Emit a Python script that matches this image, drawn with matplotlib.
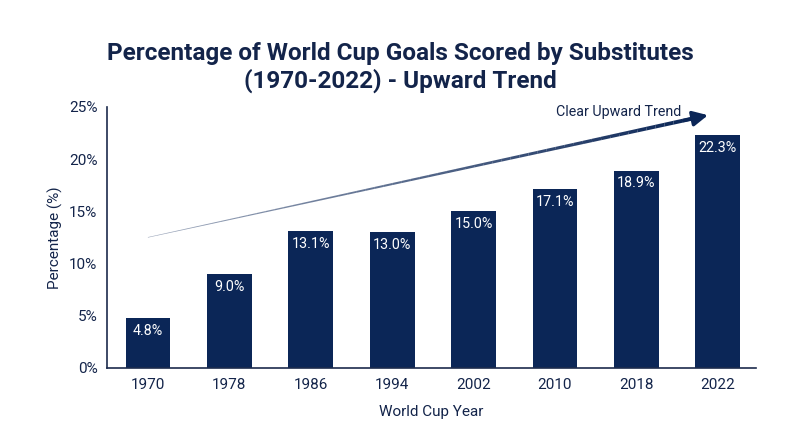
import matplotlib
matplotlib.use("Agg")
import matplotlib.pyplot as plt
import numpy as np
from matplotlib.collections import LineCollection

years = ["1970", "1978", "1986", "1994", "2002", "2010", "2018", "2022"]
values = [4.8, 9.0, 13.1, 13.0, 15.0, 17.1, 18.9, 22.3]
yticks = [0, 5, 10, 15, 20, 25]
trend_start = 12.5
trend_end = 24.2

plt.rcParams['font.family'] = ['Roboto', 'DejaVu Sans']
navy = '#0b2657'
textc = '#13244a'

fig = plt.figure(figsize=(8, 4.47), dpi=100)
ax = fig.add_axes([0.134, 0.177, 0.811, 0.584])

x = np.arange(len(years))
bars = ax.bar(x, values, width=0.55, color=navy, zorder=2)
for xi, v in zip(x, values):
    ax.text(xi, v - 0.55, f"{v:.1f}%", ha='center', va='top', color='white', fontsize=10.3)

ax.set_xlim(-0.5, 7.47)
ax.set_ylim(0, 25)
ax.set_xticks(x)
ax.set_xticklabels(years)
ax.set_yticks(yticks)
ax.set_yticklabels([f"{t}%" for t in yticks])
ax.tick_params(length=0, labelsize=11, colors=textc, pad=7)
for s in ['top', 'right']:
    ax.spines[s].set_visible(False)
for s in ['left', 'bottom']:
    ax.spines[s].set_color('#1c2b4d')
    ax.spines[s].set_linewidth(1.2)
ax.set_xlabel("World Cup Year", fontsize=11, color=textc, labelpad=10)
ax.set_ylabel("Percentage (%)", fontsize=11, color=textc, labelpad=4)

# tapered trend arrow
x0, x1 = 0.0, 6.88
n = 60
xs = np.linspace(x0, x1 - 0.2, n + 1)
ys = trend_start + (trend_end - trend_start) * (xs - x0) / (x1 - x0)
segs = [[(xs[i], ys[i]), (xs[i + 1], ys[i + 1])] for i in range(n)]
lw = np.linspace(0.4, 2.8, n)
alphas = np.linspace(0.4, 1.0, n)
cols = [(11/255, 38/255, 87/255, a) for a in alphas]
ax.add_collection(LineCollection(segs, linewidths=lw, colors=cols, zorder=3, capstyle='butt'))
ax.annotate("", xy=(x1, trend_end), xytext=(x1 - 0.3, trend_end - (trend_end - trend_start) * 0.3 / (x1 - x0)),
            arrowprops=dict(arrowstyle='-|>,head_length=0.9,head_width=0.45', color=navy, lw=2.4,
                            shrinkA=0, shrinkB=0), zorder=4)
ax.text(x1 - 0.33, trend_end + 0.3, "Clear Upward Trend", ha='right', va='center', fontsize=10.3, color=textc)

fig.suptitle("Percentage of World Cup Goals Scored by Substitutes\n(1970-2022) - Upward Trend",
             x=0.5, y=0.905, fontsize=17.5, fontweight='bold', color=textc, linespacing=1.15)

fig.savefig("out.png", dpi=100, facecolor='white')
